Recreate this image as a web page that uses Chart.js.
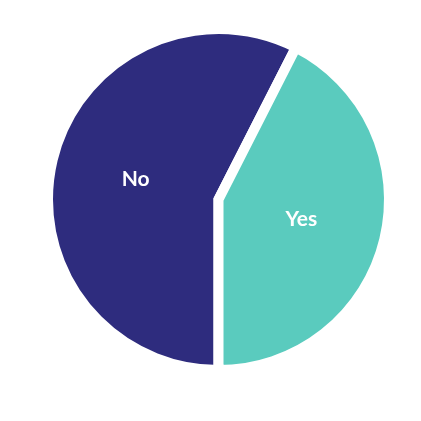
<!DOCTYPE html>
<html>
<head>
<meta charset="utf-8">
<script src="https://cdn.jsdelivr.net/npm/chart.js@4/dist/chart.umd.min.js"></script>
<style>
  html, body { margin: 0; padding: 0; background: #fff; }
  #wrap { width: 421px; height: 421px; }
</style>
</head>
<body>
<div id="wrap"><canvas id="pieChart"></canvas></div>
<script>
// data
const labels = ["No", "Yes"];
const values = [57.5, 42.5];
const colors = ["#2e2c7e", "#5acbbe"];

// draws the category name inside each slice
const sliceLabels = {
  id: 'sliceLabels',
  afterDatasetsDraw(chart) {
    const ctx = chart.ctx;
    const meta = chart.getDatasetMeta(0);
    ctx.save();
    ctx.fillStyle = '#ffffff';
    ctx.font = 'bold 21px Lato, "Open Sans", sans-serif';
    ctx.textAlign = 'center';
    ctx.textBaseline = 'middle';
    meta.data.forEach(function(arc, i) {
      const pos = arc.tooltipPosition();
      ctx.fillText(chart.data.labels[i], pos.x, pos.y);
    });
    ctx.restore();
  }
};

const config = {
  type: 'pie',
  data: {
    labels: labels,
    datasets: [{
      data: values,
      backgroundColor: colors,
      borderColor: '#ffffff',
      borderWidth: 10,
      borderJoinStyle: 'miter'
    }]
  },
  options: {
    responsive: true,
    maintainAspectRatio: false,
    animation: false,
    rotation: 180,
    layout: {
      padding: { left: 43, right: 27, top: 24, bottom: 46 }
    },
    plugins: {
      legend: { display: false },
      tooltip: { enabled: false }
    }
  },
  plugins: [sliceLabels]
};

const myChart = new Chart(document.getElementById('pieChart'), config);
</script>
</body>
</html>
